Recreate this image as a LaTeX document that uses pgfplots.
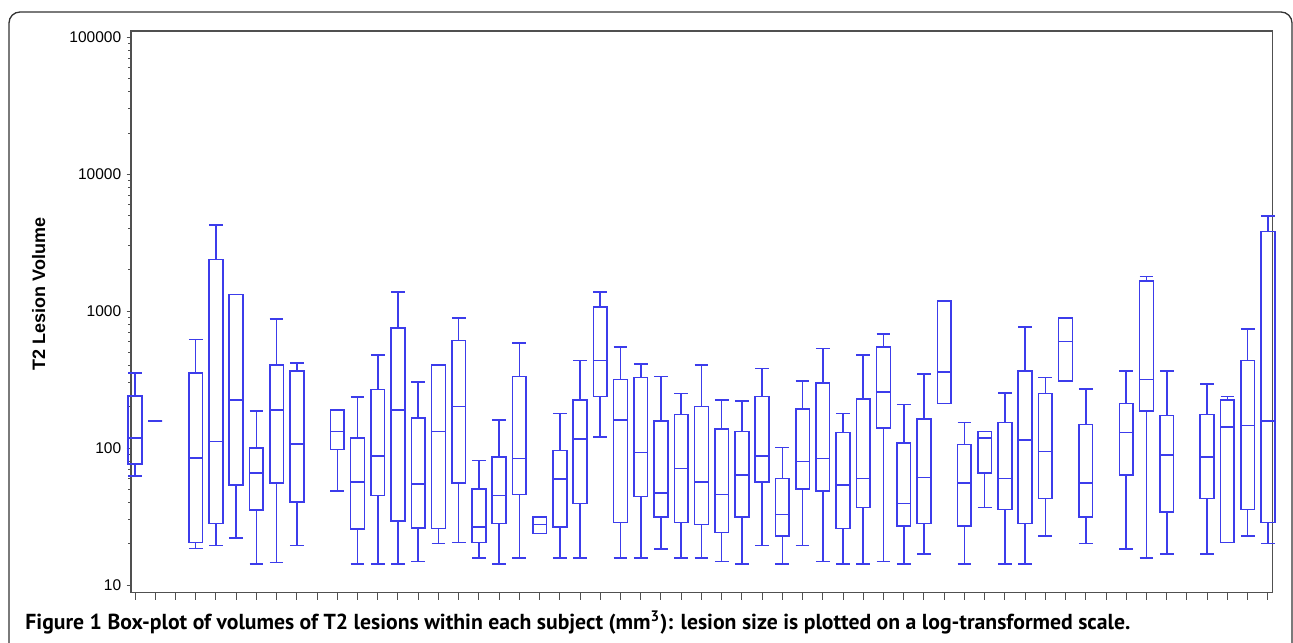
\documentclass[border=0pt]{standalone}
\usepackage{fontspec}
\setmainfont{Liberation Sans}
\newfontfamily\capfont{PT Sans}
\usepackage{graphicx}
\usepackage{pgfplots}
\pgfplotsset{compat=1.18}
\definecolor{bx}{RGB}{60,60,235}
\definecolor{ax}{RGB}{80,80,80}
% #1 position, #2 lower whisker, #3 lower quartile, #4 median, #5 upper quartile, #6 upper whisker
\newcommand{\bp}[6]{%
  \pgfmathsetmacro\xl{#1-0.34}\pgfmathsetmacro\xr{#1+0.34}%
  \addplot[draw=bx, color=bx, line width=0.8pt, solid, no markers, unbounded coords=jump, line join=miter] coordinates {
    (\xl,#3) (\xr,#3) (\xr,#5) (\xl,#5) (\xl,#3) (\xr,#3) (nan,nan)
    (\xl,#4) (\xr,#4) (nan,nan)
    (#1,#3) (#1,#2) (nan,nan) (\xl,#2) (\xr,#2) (nan,nan)
    (#1,#5) (#1,#6) (nan,nan) (\xl,#6) (\xr,#6)};}
\begin{document}
\begin{tikzpicture}
\begin{axis}[
  at={(0pt,0pt)}, anchor=south west,
  scale only axis, width=570.85pt, height=280.85pt,
  clip=false,
  xmin=0.802, xmax=57.24,
  ymode=log, ymin=8.787, ymax=111170,
  xtick=\empty,
  extra x ticks={1,...,57}, extra x tick labels={},
  extra x tick style={major tick length=3.5pt, tick align=outside, tick style={ax, line width=0.5pt}},
  ytick={10,100,1000,10000,100000},
  yticklabels={10,100,1000,10000,100000},
  ytick pos=left, xtick pos=left,
  tick align=outside,
  major tick length=2.2pt, minor tick length=1.3pt,
  tick style={ax, line width=0.5pt},
  axis line style={ax, line width=0.65pt},
  /pgf/number format/assume math mode=true,
  yticklabel style={font=\fontsize{7.75}{9}\selectfont, inner sep=0pt, xshift=-2.5pt},
  ylabel={\bfseries T2 Lesion Volume},
  ylabel style={at={(axis description cs:-0.0808,0.532)}, anchor=center, font=\fontsize{9}{10}\selectfont},
]
\bp{1}{62.5}{76.8}{118}{241}{355}
\bp{2}{157}{157}{157}{157}{157}
\bp{4}{18.5}{20.5}{84.5}{355}{621}
\bp{5}{19.4}{28.2}{112}{2383}{4250}
\bp{6}{22.0}{53.7}{224}{1325}{1325}
\bp{7}{14.3}{35.2}{66}{100}{186}
\bp{8}{14.6}{55.6}{189}{403}{875}
\bp{9}{19.4}{40.4}{107}{366}{420}
\bp{11}{48.8}{97.8}{132}{189}{189}
\bp{12}{14.3}{25.6}{56.8}{118}{237}
\bp{13}{14.3}{45.2}{87.5}{267}{480}
\bp{14}{14.3}{29.3}{189}{751}{1377}
\bp{15}{14.9}{26.2}{54.6}{166}{303}
\bp{16}{20.1}{25.8}{132}{403}{403}
\bp{17}{20.5}{55.8}{201}{611}{893}
\bp{18}{15.8}{20.5}{26.4}{50.5}{81.3}
\bp{19}{14.3}{28.2}{45.2}{86}{160}
\bp{20}{15.8}{45.9}{84.1}{333}{587}
\bp{21}{23.8}{23.8}{27.7}{31.5}{31.5}
\bp{22}{15.8}{26.4}{59.2}{96.1}{179}
\bp{23}{15.8}{39.5}{116}{224}{437}
\bp{24}{120}{238}{437}{1074}{1377}
\bp{25}{15.8}{28.7}{160}{316}{546}
\bp{26}{15.8}{44.2}{93.1}{328}{410}
\bp{27}{18.3}{31.5}{47}{157}{333}
\bp{28}{15.8}{28.7}{71.1}{176}{251}
\bp{29}{15.8}{27.7}{56.8}{201}{403}
\bp{30}{14.9}{24.2}{45.9}{138}{224}
\bp{31}{14.3}{31.5}{63.5}{132}{220}
\bp{32}{19.4}{56.8}{87.5}{238}{382}
\bp{33}{14.3}{22.9}{32.8}{60.1}{101}
\bp{34}{19.4}{50.5}{80}{193}{310}
\bp{35}{14.9}{48.8}{84.1}{298}{534}
\bp{36}{14.3}{25.8}{53.7}{130}{179}
\bp{37}{14.3}{36.9}{60.1}{229}{477}
\bp{38}{14.9}{140}{256}{546}{683}
\bp{39}{14.3}{27.1}{39.5}{109}{208}
\bp{40}{16.9}{28.2}{61.1}{163}{347}
\bp{41}{212}{212}{361}{1183}{1183}
\bp{42}{14.3}{27.1}{55.8}{106}{154}
\bp{43}{36.9}{66}{118}{132}{132}
\bp{44}{14.3}{35.5}{60.1}{154}{252}
\bp{45}{14.3}{28.2}{114}{366}{764}
\bp{46}{22.9}{42.7}{94.6}{251}{328}
\bp{47}{310}{310}{601}{893}{893}
\bp{48}{20.1}{31.5}{55.8}{149}{271}
\bp{50}{18.3}{63.5}{130}{212}{366}
\bp{51}{15.7}{186}{316}{1656}{1792}
\bp{52}{16.9}{34.1}{89.4}{173}{366}
\bp{54}{16.9}{42.7}{86}{176}{293}
\bp{55}{20.5}{20.5}{143}{224}{238}
\bp{56}{22.9}{35.5}{146}{437}{740}
\bp{57}{20.1}{28.7}{157}{3817}{4967}
\end{axis}
\begin{scope}[shift={(-65.5pt,296.35pt)}, x=0.5pt, y=-0.5pt]
  \draw[black!80, line width=0.65pt, rounded corners=5.5pt] (9,700) -- (9,12) -- (1292,12) -- (1292,700);
  \node[anchor=base west, inner sep=0pt] at (25,629) {\resizebox{552.5pt}{!}{\capfont\bfseries Figure 1 Box-plot of volumes of T2 lesions within each subject (mm\textsuperscript{3}): lesion size is plotted on a log-transformed scale.}};
  \pgfresetboundingbox
  \path (0,0) rectangle (1293,642);
\end{scope}
\end{tikzpicture}
\end{document}
